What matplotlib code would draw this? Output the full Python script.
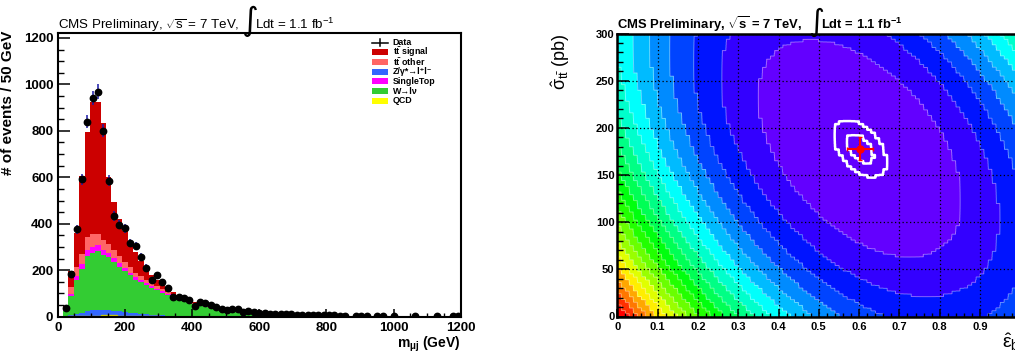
import colorsys
import numpy as np
import matplotlib
matplotlib.use("Agg")
import matplotlib.pyplot as plt
from matplotlib.colors import ListedColormap, BoundaryNorm
from matplotlib.ticker import MultipleLocator
from matplotlib.patches import Rectangle
from matplotlib.lines import Line2D

plt.rcParams['font.family'] = ['Liberation Sans', 'DejaVu Sans']
plt.rcParams['mathtext.fontset'] = 'custom'
plt.rcParams['mathtext.rm'] = 'Liberation Sans'
plt.rcParams['mathtext.it'] = 'Liberation Sans:italic'
plt.rcParams['mathtext.bf'] = 'Liberation Sans:bold'
plt.rcParams['mathtext.default'] = 'regular'

# ---------------- left panel: m(mu j), 16 GeV bins from 0 to 1200
bin_width = 16
n_bins = 75

data = [0, 37, 185, 377, 592, 840, 940, 969, 801, 585, 434, 396, 381, 318, 303, 257,
        211, 158, 181, 151, 123, 83, 86, 80, 70, 46, 64, 60, 50, 40, 33, 29, 32, 32, 20, 26] + \
       [22, 18, 15, 12, 12, 10, 12, 10, 8, 8, 7, 7, 7, 6, 6, 6, 5, 5, 0, 3,
        3, 3, 0, 2, 2, 0, 2, 0, 0, 0, 1, 0, 0, 0, 1, 0, 0, 1, 1]

qcd = [0, 0, 1, 2, 3, 3, 4, 5, 6, 7, 6, 5, 4, 3, 2, 2, 1, 1, 1] + [0] * 56
zjets = [0, 2, 6, 10, 15, 20, 24, 25, 24, 22, 20, 18, 16, 14, 12, 10, 9, 8, 7, 6,
         5, 5, 4, 4, 3, 3, 3, 2, 2, 2, 2, 2, 1, 1, 1, 1] + [0] * 39
wjets = [0, 22, 80, 148, 187, 239, 247, 251, 235, 226, 209, 192, 175, 161, 146, 136,
         125, 116, 105, 97, 88, 78, 70, 63, 56, 50, 44, 40, 35, 31, 28, 25, 22, 20, 18, 16] + \
        [15, 13, 12, 10, 9, 8, 8, 7, 6, 5, 5, 4.5, 4, 4, 3.5, 3, 3, 2.7, 2.4, 2.2,
         2, 1.9, 1.7, 1.6, 1.4, 1.3, 1.2, 1.1, 1, 0.9, 0.9, 0.8, 0.7, 0.7, 0.6, 0.6, 0.5, 0.5, 0.5]
singletop = [0, 5, 12, 15, 20, 25, 27, 26, 22, 20, 18, 16, 14, 12, 11, 10, 9, 8, 7, 6,
             5, 5, 4, 4, 3, 3, 3, 2, 2, 2, 2, 1, 1, 1, 1, 1] + [0] * 39
tt_other = [0, 8, 30, 40, 45, 55, 55, 50, 45, 40, 35, 30, 26, 22, 19, 16, 14, 12, 11, 9,
            8, 7, 6, 5, 5, 4, 4, 3, 3, 3, 2, 2, 2, 2, 1, 1] + [0] * 39
tt_signal = [0, 10, 66, 145, 336, 455, 566, 566, 501, 288, 204, 159, 135, 108, 90, 66,
             47, 35, 29, 17, 19, 10, 9, 6, 6, 5, 4, 5, 4, 3, 3, 3, 3, 2, 2, 2] + \
            [2, 2, 1.5, 1.5, 1.2, 1.2, 1, 1, 1, 0.8, 0.8, 0.7, 0.7, 0.6, 0.6, 0.5, 0.5, 0.4, 0.4, 0.4,
             0.3, 0.3, 0.3, 0.3, 0.2, 0.2, 0.2, 0.2, 0.2, 0.1, 0.1, 0.1, 0.1, 0.1, 0.1, 0.1, 0.1, 0.1, 0.1]

# stacking order, bottom to top
stack_values = [qcd, zjets, wjets, singletop, tt_other, tt_signal]
stack_colors = ['#ffff00', '#3366ff', '#33cc33', '#ff00ff', '#ff6666', '#cc0000']

# legend order as in the picture
leg_labels = ['Data', r't$\bar{t}$ signal', r't$\bar{t}$ other', 'Z/γ*→l⁺l⁻', 'SingleTop', 'W→lν', 'QCD']
leg_colors = [None, '#cc0000', '#ff6666', '#3366ff', '#ff00ff', '#33cc33', '#ffff00']

# ---------------- right panel: likelihood scan in (eps_b, sigma_tt)
eps_fit, sig_fit = 0.602, 178.0
eps_fit_err, sig_fit_err = 0.033, 11.8
eps_width, sig_width, corr = 0.033, 15.0, -0.48
z_exponent = 1.11
n_levels = 20

W, H = 1015, 358
fig = plt.figure(figsize=(W / 100, H / 100), dpi=100)


def fx(x):
    return x / W


def fy(y):
    return 1 - y / H


# ================= left panel
ax = fig.add_axes([fx(57.7), fy(316.7), 403 / W, 283.4 / H])
edges = np.arange(n_bins + 1) * bin_width
centers = edges[:-1] + bin_width / 2
bottom = np.zeros(n_bins)
for vals, col in zip(stack_values, stack_colors):
    top = bottom + np.array(vals, dtype=float)
    ax.stairs(top, edges, baseline=bottom, fill=True, color=col, lw=0)
    bottom = top
ax.stairs(np.array(qcd, dtype=float), edges, baseline=None, color='#cccc00', lw=1.0)

d = np.array(data, dtype=float)
m = d > 0
ax.errorbar(centers[m], d[m], yerr=np.sqrt(d[m]), fmt='o', color='black', ms=4.6,
            ecolor='#1a1aa8', elinewidth=1.1, capsize=0, zorder=5)

ax.set_xlim(0, 1200)
ax.set_ylim(0, 1220)
ax.xaxis.set_major_locator(MultipleLocator(200))
ax.xaxis.set_minor_locator(MultipleLocator(50))
ax.yaxis.set_major_locator(MultipleLocator(200))
ax.yaxis.set_minor_locator(MultipleLocator(50))
ax.tick_params(axis='y', which='major', direction='in', length=8.6, width=1.1, pad=3.2)
ax.tick_params(axis='y', which='minor', direction='in', length=4.3, width=1.0)
ax.tick_params(axis='x', which='major', direction='in', length=6.1, width=1.1, pad=3.5)
ax.tick_params(axis='x', which='minor', direction='in', length=3.0, width=1.0)
for lab in ax.get_xticklabels() + ax.get_yticklabels():
    lab.set_fontweight('bold')
    lab.set_fontsize(9.5)
for s in ax.spines.values():
    s.set_linewidth(1.5)

ax.set_ylabel('# of events / 50 GeV', fontsize=11, fontweight='bold', loc='top')
ax.yaxis.set_label_coords(-0.106, 1.01)
ax.set_xlabel(r'm$_{\mu j}$ (GeV)', fontsize=10, fontweight='bold', loc='right')
ax.xaxis.set_label_coords(1.0, -0.065)

# legend
leg_x0, leg_x1, leg_tx = 0.779, 0.820, 0.831
row_y = [42.6, 52.3, 62.0, 71.7, 81.4, 91.1, 100.8]
for yy, lab, col in zip(row_y, leg_labels, leg_colors):
    ya = (316.7 - yy) / 283.4
    if col is None:
        ax.add_line(Line2D([leg_x0, leg_x1], [ya, ya], color='black', lw=1.1, transform=ax.transAxes))
        ax.add_line(Line2D([(leg_x0 + leg_x1) / 2] * 2, [ya - 0.012, ya + 0.012], color='black',
                           lw=1.1, transform=ax.transAxes))
    else:
        ax.add_patch(Rectangle((leg_x0, ya - 0.0105), leg_x1 - leg_x0, 0.021, color=col,
                               transform=ax.transAxes, lw=0))
    ax.text(leg_tx, ya, lab, transform=ax.transAxes, fontsize=6.4, fontweight='bold',
            va='center', ha='left')

fig.text(fx(57.7), fy(29), r'CMS Preliminary, $\sqrt{s}$ = 7 TeV,', fontsize=9.6, va='baseline')
fig.text(fx(241), fy(21), '∫', fontsize=23, va='center', ha='left', family='DejaVu Sans')
fig.text(fx(255), fy(29), r'Ldt = 1.1 fb$^{-1}$', fontsize=9.6, va='baseline')

# ================= right panel
ax2 = fig.add_axes([fx(617.3), fy(316.5), 403 / W, 283 / H])
eps_edges = np.linspace(0, 1, 101)
sig_edges = np.linspace(0, 300, 101)
E, S = np.meshgrid((eps_edges[:-1] + eps_edges[1:]) / 2, (sig_edges[:-1] + sig_edges[1:]) / 2)
de = (E - eps_fit) / eps_width
ds = (S - sig_fit) / sig_width
chi2 = (de ** 2 + ds ** 2 - 2 * corr * de * ds) / (1 - corr ** 2)
zmap = chi2 ** z_exponent

levels = np.linspace(zmap.min(), zmap.max(), n_levels + 1)
band_colors = []
for k in range(n_levels):
    idx = int((k + 0.99) * 50 / n_levels)
    hue = 280 - (idx + 1) * 280 / 50
    band_colors.append(colorsys.hls_to_rgb(hue / 360, 0.5, 1.0))
ax2.pcolormesh(eps_edges, sig_edges, zmap, cmap=ListedColormap(band_colors),
               norm=BoundaryNorm(levels, n_levels), zorder=0)

# finer copy of the same cells so contour lines follow the cell steps
up = 6
zmap_up = np.kron(zmap, np.ones((up, up)))
chi2_up = np.kron(chi2, np.ones((up, up)))
eps_up = (np.arange(100 * up) + 0.5) / (100 * up)
sig_up = (np.arange(100 * up) + 0.5) * 300 / (100 * up)
ax2.contour(eps_up, sig_up, zmap_up, levels=levels[1:-1], colors='white', linewidths=0.7,
            alpha=0.4, zorder=1)
ax2.contour(eps_up, sig_up, chi2_up, levels=[chi2.min() + 1, chi2.min() + 4], colors='white',
            linewidths=1.8, zorder=3)
ax2.errorbar([eps_fit], [sig_fit], xerr=[eps_fit_err], yerr=[sig_fit_err], fmt='o', color='red',
             ms=5, elinewidth=1.5, capsize=1.5, zorder=4)

ax2.set_xlim(0, 1)
ax2.set_ylim(0, 300)
ax2.xaxis.set_major_locator(MultipleLocator(0.1))
ax2.xaxis.set_minor_locator(MultipleLocator(0.02))
ax2.yaxis.set_major_locator(MultipleLocator(50))
ax2.yaxis.set_minor_locator(MultipleLocator(10))
ax2.grid(True, which='major', color='black', linestyle=(0, (1, 2)), linewidth=0.9, zorder=2)
ax2.tick_params(axis='y', which='major', direction='in', length=8.6, width=1.1, pad=2)
ax2.tick_params(axis='y', which='minor', direction='in', length=4.3, width=1.0)
ax2.tick_params(axis='x', which='major', direction='in', length=6.1, width=1.1, pad=4)
ax2.tick_params(axis='x', which='minor', direction='in', length=3.0, width=1.0)
ax2.set_xticks([0, 0.1, 0.2, 0.3, 0.4, 0.5, 0.6, 0.7, 0.8, 0.9])
ax2.set_xticklabels(['0', '0.1', '0.2', '0.3', '0.4', '0.5', '0.6', '0.7', '0.8', '0.9'])
for lab in ax2.get_xticklabels() + ax2.get_yticklabels():
    lab.set_fontweight('bold')
    lab.set_fontsize(8)
for s in ax2.spines.values():
    s.set_linewidth(1.8)

ax2.set_ylabel(r'$\hat{\sigma}_{t\bar{t}}$ (pb)', fontsize=13, loc='top')
ax2.yaxis.set_label_coords(-0.112, 1.0)
ax2.set_xlabel(r'$\hat{\epsilon}_{b}$', fontsize=14, loc='right')
ax2.xaxis.set_label_coords(1.0, -0.05)

fig.text(fx(617.3), fy(29), r'CMS Preliminary, $\sqrt{s}$ = 7 TeV,', fontsize=9.4,
         fontweight='bold', va='baseline')
fig.text(fx(808), fy(22), '∫', fontsize=22, va='center', ha='left', family='DejaVu Sans')
fig.text(fx(821), fy(29), r'Ldt = 1.1 fb$^{-1}$', fontsize=9.4, fontweight='bold', va='baseline')

fig.savefig('out.png', dpi=100, facecolor='white')
